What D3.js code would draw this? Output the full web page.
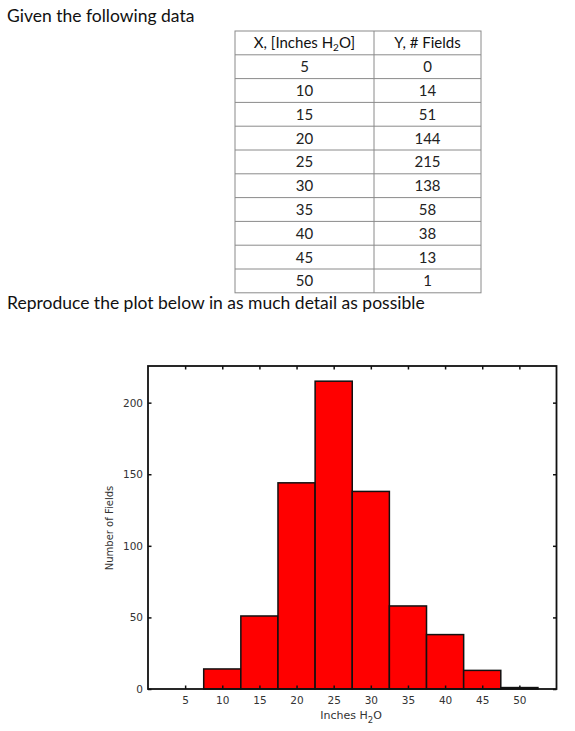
<!DOCTYPE html>
<html><head><meta charset="utf-8">
<script src="https://cdn.jsdelivr.net/npm/d3@7"></script>
<style>body{margin:0;background:#fff}svg{display:block}</style>
</head><body>
<script>
const xValues = [5, 10, 15, 20, 25, 30, 35, 40, 45, 50];
const yValues = [0, 14, 51, 144, 215, 138, 58, 38, 13, 1];
const xTicks = [5, 10, 15, 20, 25, 30, 35, 40, 45, 50];
const yTicks = [0, 50, 100, 150, 200];
const headerX = "X, [Inches H";
const headerY = "Y, # Fields";

const W = 575, H = 731;
const svg = d3.select("body").append("svg").attr("width", W).attr("height", H);
const textFont = "Lato, 'Open Sans', sans-serif";

svg.append("text").attr("x", 7).attr("y", 22).attr("font-family", textFont)
  .attr("font-size", 17.5).attr("fill", "#111").text("Given the following data");

// table
const tLeft = 235, tMid = 374, tRight = 481, tTop = 31, rowH = 23.8;
const rows = xValues.map((x, i) => ({x, y: yValues[i]}));
const tg = svg.append("g");
const nRows = rows.length + 1;
tg.append("rect").attr("x", tLeft).attr("y", tTop).attr("width", tRight - tLeft)
  .attr("height", rowH * nRows).attr("fill", "none").attr("stroke", "#8a8a8a").attr("stroke-width", 1);
tg.selectAll("line.h").data(d3.range(1, nRows)).join("line")
  .attr("x1", tLeft).attr("x2", tRight).attr("y1", d => tTop + d * rowH).attr("y2", d => tTop + d * rowH)
  .attr("stroke", "#8a8a8a").attr("stroke-width", 1);
tg.append("line").attr("x1", tMid).attr("x2", tMid).attr("y1", tTop).attr("y2", tTop + rowH * nRows)
  .attr("stroke", "#8a8a8a").attr("stroke-width", 1);
const hx = tg.append("text").attr("x", (tLeft + tMid) / 2).attr("y", tTop + rowH / 2 + 5.5)
  .attr("text-anchor", "middle").attr("font-family", textFont).attr("font-size", 15).attr("fill", "#111");
hx.append("tspan").text(headerX);
hx.append("tspan").attr("font-size", 10).attr("dy", 3).text("2");
hx.append("tspan").attr("dy", -3).text("O]");
tg.append("text").attr("x", (tMid + tRight) / 2).attr("y", tTop + rowH / 2 + 5.5)
  .attr("text-anchor", "middle").attr("font-family", textFont).attr("font-size", 15).attr("fill", "#111").text(headerY);
tg.selectAll("text.cx").data(rows).join("text").attr("class", "cx")
  .attr("x", (tLeft + tMid) / 2).attr("y", (d, i) => tTop + (i + 1.5) * rowH + 5.5)
  .attr("text-anchor", "middle").attr("font-family", textFont).attr("font-size", 15).attr("fill", "#222").text(d => d.x);
tg.selectAll("text.cy").data(rows).join("text").attr("class", "cy")
  .attr("x", (tMid + tRight) / 2).attr("y", (d, i) => tTop + (i + 1.5) * rowH + 5.5)
  .attr("text-anchor", "middle").attr("font-family", textFont).attr("font-size", 15).attr("fill", "#222").text(d => d.y);

svg.append("text").attr("x", 7).attr("y", 309).attr("font-family", textFont)
  .attr("font-size", 17.5).attr("fill", "#111").text("Reproduce the plot below in as much detail as possible");

// chart
const pl = 148, pr = 556.5, pt = 366, pb = 689;
const x = d3.scaleLinear().domain([0, 55]).range([pl, pr]);
const y = d3.scaleLinear().domain([0, 225.6]).range([pb, pt]);
const cg = svg.append("g");
const binW = 5;

cg.selectAll("rect.bar").data(rows).join("rect").attr("class", "bar")
  .attr("x", d => x(d.x - binW / 2)).attr("width", d => x(d.x + binW / 2) - x(d.x - binW / 2))
  .attr("y", d => y(d.y)).attr("height", d => y(0) - y(d.y))
  .attr("fill", "#ff0000").attr("stroke", "#111").attr("stroke-width", 1.5);

const axFont = "'DejaVu Sans', sans-serif";
const axSize = 10.5;
const tickLen = 3.5;
const styleAxis = (g) => {
  g.select(".domain").remove();
  g.selectAll(".tick line").attr("stroke", "#111").attr("stroke-width", 1.5);
};
cg.append("g").attr("transform", `translate(0,${pb})`)
  .call(d3.axisBottom(x).tickValues(xTicks).tickSizeInner(-tickLen).tickSizeOuter(0).tickPadding(8))
  .call(styleAxis)
  .call(g => g.selectAll(".tick text").attr("font-family", axFont).attr("font-size", axSize).attr("fill", "#333"));
cg.append("g").attr("transform", `translate(0,${pt})`)
  .call(d3.axisTop(x).tickValues(xTicks).tickSizeInner(-tickLen).tickSizeOuter(0).tickFormat(""))
  .call(styleAxis);
cg.append("g").attr("transform", `translate(${pl},0)`)
  .call(d3.axisLeft(y).tickValues(yTicks).tickSizeInner(-tickLen).tickSizeOuter(0).tickPadding(5))
  .call(styleAxis)
  .call(g => g.selectAll(".tick text").attr("font-family", axFont).attr("font-size", axSize).attr("fill", "#333"));
cg.append("g").attr("transform", `translate(${pr},0)`)
  .call(d3.axisRight(y).tickValues(yTicks).tickSizeInner(-tickLen).tickSizeOuter(0).tickFormat(""))
  .call(styleAxis);

cg.append("rect").attr("x", pl).attr("y", pt).attr("width", pr - pl).attr("height", pb - pt)
  .attr("fill", "none").attr("stroke", "#111").attr("stroke-width", 1.8);

const xl = cg.append("text").attr("x", 351).attr("y", 719).attr("text-anchor", "middle")
  .attr("font-family", axFont).attr("font-size", 11).attr("fill", "#333");
xl.append("tspan").text("Inches H");
xl.append("tspan").attr("font-size", 8.5).attr("dy", 3.5).text("2");
xl.append("tspan").attr("dy", -3.5).text("O");

cg.append("text").attr("transform", "translate(113,528) rotate(-90)").attr("text-anchor", "middle")
  .attr("font-family", axFont).attr("font-size", 10).attr("fill", "#333").text("Number of Fields");
</script>
</body></html>
